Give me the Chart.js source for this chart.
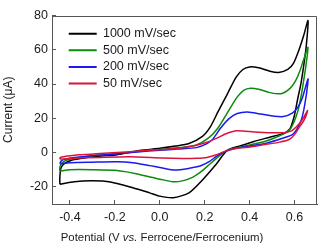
<!DOCTYPE html>
<html lang="en">
<head>
<meta charset="UTF-8">
<title>Cyclic voltammograms</title>
<script src="https://cdn.jsdelivr.net/npm/chart.js"></script>
<style>
  html, body { margin: 0; padding: 0; background: #fff; }
  #wrap { width: 322px; height: 249px; }
</style>
</head>
<body>
<div id="wrap"><canvas id="cv"></canvas></div>
<script>
// scan rates shown in the legend
const seriesLabels = ['1000 mV/sec', '500 mV/sec', '200 mV/sec', '50 mV/sec'];
const seriesColors = ['#000000', '#0b8a0b', '#1a1af0', '#dc143c'];

// 1000 mV/sec loop (forward sweep, then reverse)
const potential1000 = [-0.445, -0.445, -0.44, -0.425, -0.39, -0.33, -0.26, -0.19, -0.09, 0.0, 0.07, 0.13, 0.19, 0.225, 0.26, 0.30, 0.34, 0.37, 0.40, 0.44, 0.49, 0.53, 0.57, 0.595, 0.62, 0.64, 0.66,
  0.652, 0.64, 0.628, 0.615, 0.60, 0.58, 0.55, 0.49, 0.42, 0.36, 0.30, 0.25, 0.19, 0.13, 0.06, 0.0, -0.045, -0.12, -0.22, -0.30, -0.38, -0.445];
const current1000 = [-18.5, -14, -9, -6.5, -4.3, -3, -2, -1.2, 1.2, 2.5, 3.8, 5.3, 9.5, 15, 24, 34, 44, 48.5, 50, 49.5, 47.5, 46.8, 48.5, 52, 60, 68, 77,
  62, 50, 40, 32, 22, 14, 11.2, 9, 6.5, 4, 1.3, -7, -16, -23.5, -26.3, -25.4, -23.5, -20.5, -17.2, -16.5, -17, -18.5];

// 500 mV/sec
const potential500 = [-0.445, -0.445, -0.435, -0.41, -0.36, -0.28, -0.19, -0.09, 0.0, 0.08, 0.16, 0.22, 0.26, 0.30, 0.345, 0.375, 0.404, 0.44, 0.49, 0.54, 0.58, 0.605, 0.622, 0.64, 0.66,
  0.652, 0.643, 0.632, 0.62, 0.607, 0.585, 0.563, 0.51, 0.46, 0.40, 0.35, 0.30, 0.26, 0.222, 0.185, 0.148, 0.10, 0.059, 0.0, -0.044, -0.10, -0.19, -0.30, -0.40, -0.445];
const current500 = [-10.8, -8.5, -6, -4.2, -2.8, -1.6, -0.6, 0.8, 1.8, 2.8, 4.3, 8.9, 14.5, 23, 32.5, 36.5, 37.6, 37, 35, 34.4, 37.5, 42, 47, 54, 61.5,
  52, 44, 35, 27, 21, 14.5, 11.7, 8.5, 6.2, 4.5, 3, 1.3, -2.5, -6.8, -11, -14.3, -16.5, -17, -15.5, -14.3, -12.5, -10.5, -10, -10, -10.8];

// 200 mV/sec
const potential200 = [-0.445, -0.44, -0.42, -0.38, -0.30, -0.20, -0.10, 0.0, 0.08, 0.163, 0.21, 0.237, 0.271, 0.31, 0.345, 0.39, 0.45, 0.51, 0.55, 0.59, 0.615, 0.635, 0.66,
  0.655, 0.648, 0.64, 0.63, 0.612, 0.592, 0.55, 0.474, 0.40, 0.35, 0.304, 0.27, 0.252, 0.22, 0.185, 0.148, 0.10, 0.059, 0.0, -0.044, -0.12, -0.193, -0.30, -0.40, -0.445];
const current200 = [-6.5, -5, -3.8, -2.9, -1.8, -0.8, 0.4, 1.3, 2.1, 2.9, 5.2, 8, 14.4, 20, 22.8, 23.7, 22.5, 21.2, 21, 23, 26.5, 32, 43,
  36, 30, 24, 19, 14, 10.7, 8.5, 5.5, 3.8, 2.8, 1.2, -0.8, -2.2, -5.3, -7.5, -8.7, -9.8, -10.2, -8.7, -7.6, -5.9, -5.4, -5.6, -5.9, -6.5];

// 50 mV/sec
const potential50 = [-0.445, -0.443, -0.42, -0.36, -0.267, -0.15, -0.09, 0.015, 0.10, 0.163, 0.21, 0.252, 0.30, 0.34, 0.37, 0.42, 0.46, 0.52, 0.563, 0.59, 0.622, 0.645, 0.658,
  0.65, 0.638, 0.622, 0.60, 0.578, 0.533, 0.45, 0.40, 0.36, 0.30, 0.27, 0.252, 0.21, 0.163, 0.10, 0.015, -0.133, -0.267, -0.40, -0.445];
const current50 = [-3.8, -2.8, -2.2, -1.3, -0.5, 0.4, 1, 1.8, 2.8, 4.3, 6, 8.3, 11.3, 12.7, 12.6, 12, 11.7, 11.6, 11.8, 13, 17, 21.5, 24.6,
  21, 18, 15, 10.5, 7.8, 6.1, 4.3, 3.2, 2.8, 1.3, -0.3, -1.3, -2.8, -3.3, -3.4, -3.2, -2.4, -2.8, -3.4, -3.8];

// axis ticks
const xTicks = [-0.4, -0.2, 0.0, 0.2, 0.4, 0.6];
const yTicks = [-20, 0, 20, 40, 60, 80];

const potentials = [potential1000, potential500, potential200, potential50];
const currents = [current1000, current500, current200, current50];

const FONT = "'Liberation Sans', Arial, sans-serif";
const INK = '#1a1a1a';
const FRAME = '#555';

// legend sits inside the plot, offset from the top-left corner
const legendSpot = {
  id: 'legendSpot',
  afterLayout(chart) {
    const lg = chart.legend;
    lg.left = chart.chartArea.left + 12.6;
    lg.top = 23.4;
  }
};

// top/right frame and the x-axis title (has an italic "vs.")
const framePlugin = {
  id: 'frame',
  afterDraw(chart) {
    const {ctx, chartArea: a} = chart;
    ctx.save();
    ctx.strokeStyle = FRAME;
    ctx.lineWidth = 1;
    ctx.beginPath();
    ctx.moveTo(Math.round(a.left) + 0.5, Math.round(a.top) + 0.5);
    ctx.lineTo(Math.round(a.right) - 0.5, Math.round(a.top) + 0.5);
    ctx.lineTo(Math.round(a.right) - 0.5, Math.round(a.bottom));
    ctx.stroke();

    const parts = [
      ['Potential (V ', 'normal'],
      ['vs.', 'italic'],
      [' Ferrocene/Ferrocenium)', 'normal']
    ];
    const size = 11.4;
    let total = 0;
    parts.forEach(p => {
      ctx.font = p[1] + ' ' + size + 'px ' + FONT;
      total += ctx.measureText(p[0]).width;
    });
    let x = chart.width / 2 - total / 2 + 1;
    ctx.fillStyle = INK;
    ctx.textBaseline = 'middle';
    ctx.textAlign = 'left';
    parts.forEach(p => {
      ctx.font = p[1] + ' ' + size + 'px ' + FONT;
      ctx.fillText(p[0], x, 238);
      x += ctx.measureText(p[0]).width;
    });
    ctx.restore();
  }
};

const datasets = seriesLabels.map((label, i) => ({
  label: label,
  data: potentials[i].map((v, j) => ({x: v, y: currents[i][j]})),
  borderColor: seriesColors[i],
  backgroundColor: seriesColors[i],
  borderWidth: 1.5,
  showLine: true,
  pointRadius: 0,
  tension: 0.25,
  order: i === 3 ? 0 : 4 - i
}));

new Chart(document.getElementById('cv'), {
  type: 'scatter',
  data: {datasets: datasets},
  options: {
    responsive: true,
    maintainAspectRatio: false,
    animation: false,
    events: [],
    layout: {padding: {top: 7, right: 5, left: 0, bottom: 0}},
    plugins: {
      tooltip: {enabled: false},
      legend: {
        position: 'chartArea',
        align: 'start',
        labels: {
          boxWidth: 28,
          boxHeight: 2,
          padding: 4.1,
          color: INK,
          font: {family: FONT, size: 12.5},
          sort: (a, b) => a.datasetIndex - b.datasetIndex,
          generateLabels: (chart) => Chart.defaults.plugins.legend.labels.generateLabels(chart)
            .map(l => Object.assign(l, {lineWidth: 0}))
        }
      }
    },
    scales: {
      x: {
        type: 'linear',
        min: -0.48,
        max: 0.70,
        afterBuildTicks: (s) => { s.ticks = xTicks.map(v => ({value: v})); },
        afterFit: (s) => { s.height = 45; },
        grid: {drawOnChartArea: false, tickLength: -4, tickColor: FRAME},
        border: {color: FRAME, width: 1},
        ticks: {
          padding: 10,
          color: INK,
          font: {family: FONT, size: 12.5},
          callback: (v) => v.toFixed(1)
        }
      },
      y: {
        type: 'linear',
        min: -30,
        max: 80,
        afterBuildTicks: (s) => { s.ticks = yTicks.map(v => ({value: v})); },
        afterFit: (s) => { s.width = 52; },
        grid: {drawOnChartArea: false, tickLength: -4, tickColor: FRAME},
        border: {color: FRAME, width: 1},
        title: {
          display: true,
          text: 'Current (\u03bcA)',
          color: INK,
          padding: {top: 1, bottom: 0},
          font: {family: FONT, size: 12}
        },
        ticks: {
          padding: 8,
          color: INK,
          font: {family: FONT, size: 12.5}
        }
      }
    }
  },
  plugins: [legendSpot, framePlugin]
});
</script>
</body>
</html>
